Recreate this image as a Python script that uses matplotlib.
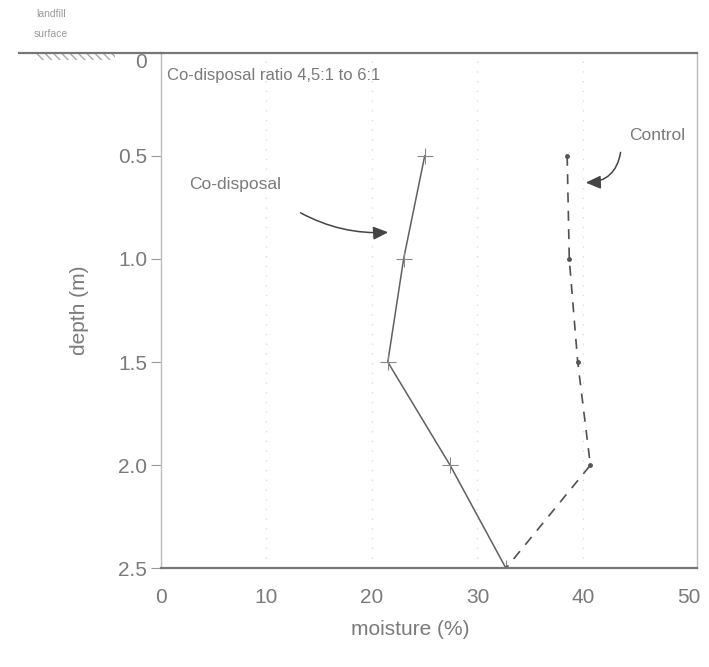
import numpy as np
import matplotlib.pyplot as plt
from matplotlib.patches import Rectangle

# depths (m) and moisture (%)
depth = [0.5, 1.0, 1.5, 2.0, 2.5]
codisposal = [25.0, 23.0, 21.5, 27.4, 32.7]
control = [38.5, 38.7, 39.5, 40.7, 32.7]

yticks = [0, 0.5, 1.0, 1.5, 2.0, 2.5]
ytick_labels = ['0', '0.5', '1.0', '1.5', '2.0', '2.5']
xticks = [0, 10, 20, 30, 40, 50]

plt.rcParams['font.family'] = ['Liberation Sans', 'DejaVu Sans']
grey = '#7a7a7a'
line_col = '#555555'

fig = plt.figure(figsize=(7.09, 6.67), dpi=100)
ax = fig.add_axes([0.227, 0.148, 0.756, 0.773])

# faint dotted verticals
for xv in xticks[1:-1]:
    ax.axvline(xv, color='#dddddd', lw=1.0, ls=(0, (1, 6)), zorder=0)

ax.plot(codisposal, depth, color='#606060', lw=1.1, marker='+', ms=12,
        mew=0.8, mec='#888888')
ax.plot(control, depth, color='#505050', lw=1.2, ls=(0, (6, 5)), marker='o',
        ms=2.5, mfc=line_col, mec=line_col)

ax.set_xlim(0, 50.8)
ax.set_ylim(2.5, 0)
ax.set_yticks(yticks)
ax.set_yticklabels(ytick_labels)
ax.set_xticks(xticks)
ax.tick_params(axis='x', length=0, pad=14, labelsize=15, labelcolor=grey)
ax.tick_params(axis='y', length=7, width=0.8, color='#999999', pad=3,
               labelsize=15, labelcolor=grey)
ax.get_yticklabels()[0].set_verticalalignment('top')

for s in ['left', 'right']:
    ax.spines[s].set_color('#bbbbbb')
    ax.spines[s].set_linewidth(1.0)
ax.spines['top'].set_color('#777777')
ax.spines['top'].set_linewidth(1.6)
ax.spines['bottom'].set_color('#777777')
ax.spines['bottom'].set_linewidth(1.6)

ax.set_xlabel('moisture (%)', fontsize=15, color=grey, labelpad=16)
ax.xaxis.set_label_coords(0.465, -0.1)
ax.set_ylabel('depth (m)', fontsize=15, color=grey)
ax.yaxis.set_label_coords(-0.135, 0.5)

# landfill surface line and hatch
ax.plot([-0.265, 0], [1, 1], transform=ax.transAxes, color='#777777',
        lw=1.6, clip_on=False)
ax.add_patch(Rectangle((-0.235, 0.985), 0.15, 0.015, transform=ax.transAxes,
                       fill=False, hatch='\\\\\\\\', edgecolor='#aaaaaa', lw=0,
                       clip_on=False))
fig.text(0.072, 0.975, 'landfill', fontsize=7.5, color='#999999', ha='center')
fig.text(0.072, 0.945, 'surface', fontsize=7.5, color='#999999', ha='center')

ax.text(0.012, 0.955, 'Co-disposal ratio 4,5:1 to 6:1', transform=ax.transAxes,
        fontsize=12, color=grey, va='center')
ax.text(0.052, 0.745, 'Co-disposal', transform=ax.transAxes, fontsize=12.5,
        color=grey, va='center')
ax.text(0.925, 0.84, 'Control', transform=ax.transAxes, fontsize=12.5,
        color=grey, va='center', ha='center')

ax.annotate('', xy=(21.8, 0.87), xytext=(13.0, 0.77),
            arrowprops=dict(arrowstyle='-|>,head_length=0.9,head_width=0.4',
                            color='#444444', lw=1.1,
                            connectionstyle='arc3,rad=0.15'))
ax.annotate('', xy=(40.0, 0.63), xytext=(43.6, 0.47),
            arrowprops=dict(arrowstyle='-|>,head_length=0.9,head_width=0.4',
                            color='#444444', lw=1.1,
                            connectionstyle='arc3,rad=-0.45'))

fig.savefig('out.png', dpi=100, facecolor='white')
